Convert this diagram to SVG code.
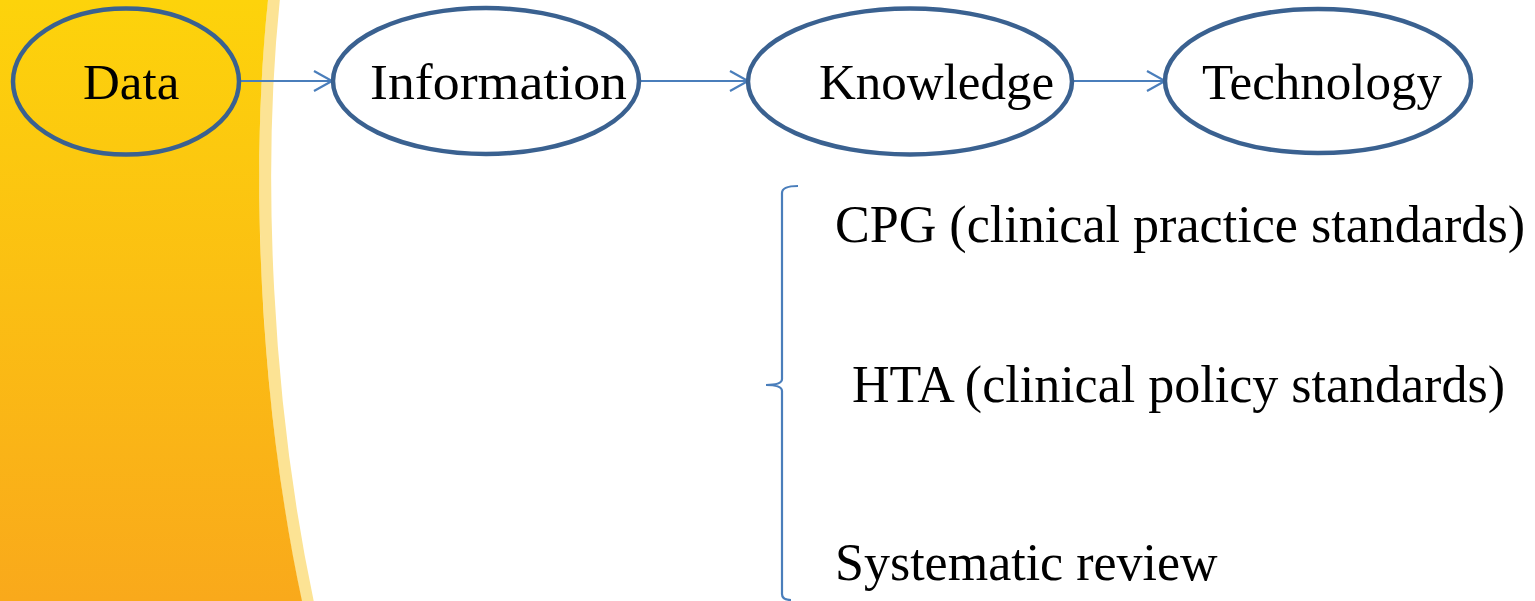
<svg xmlns="http://www.w3.org/2000/svg" width="1535" height="601" viewBox="0 0 1535 601">
<style>
.node{stroke:#3A6190;stroke-width:4.5}
.lbl{font-family:"Liberation Serif","Times New Roman",serif;font-size:51px;fill:#000}
.item{font-family:"Liberation Serif","Times New Roman",serif;font-size:52px;fill:#000}
.conn{stroke:#4A7EBB;stroke-width:2.2;fill:none}
</style>
<defs>
<linearGradient id="gold" x1="0" y1="0" x2="0" y2="1">
<stop offset="0" stop-color="#FDD30B"/>
<stop offset="1" stop-color="#F9A91B"/>
</linearGradient>
<marker id="arr" markerWidth="22" markerHeight="24" refX="19" refY="11" orient="auto" markerUnits="userSpaceOnUse">
<path d="M1,1 L19,11 L1,21" fill="none" stroke="#4A7EBB" stroke-width="2.2"/>
</marker>
</defs>
<rect width="1535" height="601" fill="#FFFFFF"/>
<g id="background">
<path d="M274,-2 C256,170 265,400 308,603" fill="none" stroke="#FCE394" stroke-width="12"/>
<path d="M0,0 L268,0 C250,170 259,400 302,601 L0,601 Z" fill="url(#gold)"/>
</g>
<g id="connectors">
<path class="conn" d="M239,81 L332,81" marker-end="url(#arr)"/>
<path class="conn" d="M639,81 L748,81" marker-end="url(#arr)"/>
<path class="conn" d="M1072,81 L1165,81" marker-end="url(#arr)"/>
<path class="conn" d="M798,186 Q782,186 782,193 L782,379 Q782,385 766,385 Q782,385 782,391 L782,594 Q782,600 791,600"/>
</g>
<g id="data">
<ellipse class="node" cx="126" cy="81.5" rx="113" ry="73" fill="none"/>
<text class="lbl" x="83" y="99">Data</text>
</g>
<g id="information">
<ellipse class="node" cx="486" cy="81" rx="153" ry="73" fill="#FFFFFF"/>
<text class="lbl" x="370" y="99" textLength="257" lengthAdjust="spacingAndGlyphs">Information</text>
</g>
<g id="knowledge">
<ellipse class="node" cx="910" cy="81.5" rx="162" ry="73" fill="#FFFFFF"/>
<text class="lbl" x="819" y="99">Knowledge</text>
</g>
<g id="technology">
<ellipse class="node" cx="1318" cy="81" rx="153" ry="72" fill="#FFFFFF"/>
<text class="lbl" x="1202" y="99">Technology</text>
</g>
<g id="cpg">
<text class="item" x="835" y="242" textLength="690" lengthAdjust="spacingAndGlyphs">CPG (clinical practice standards)</text>
</g>
<g id="hta">
<text class="item" x="852" y="402" textLength="653" lengthAdjust="spacingAndGlyphs">HTA (clinical policy standards)</text>
</g>
<g id="systematic-review">
<text class="item" x="835" y="580">Systematic review</text>
</g>
</svg>
